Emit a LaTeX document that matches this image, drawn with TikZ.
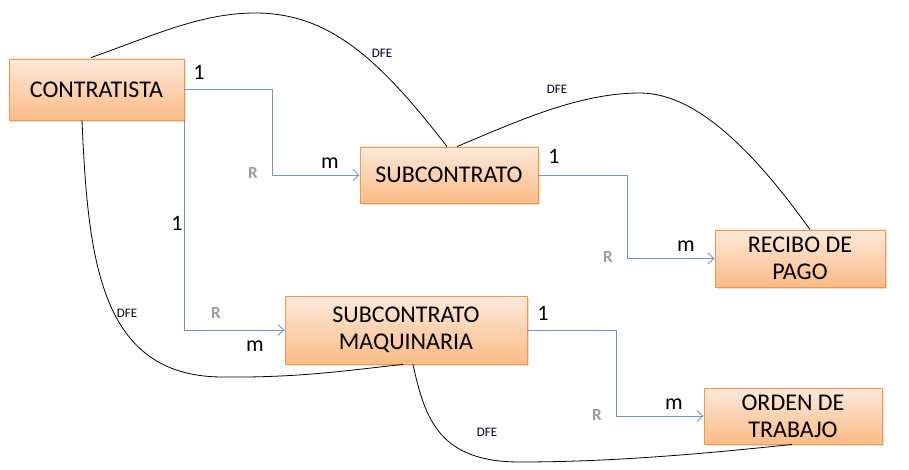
\documentclass[tikz,border=0pt]{standalone}
\usepackage{fontspec}
\setmainfont{Carlito}
\usetikzlibrary{arrows.meta,shadows,calc}
\definecolor{boxline}{HTML}{F79646}
\definecolor{boxtop}{HTML}{FDE9DA}
\definecolor{boxbot}{HTML}{FBBB86}
\definecolor{relblue}{HTML}{6F96CB}
\definecolor{rgray}{HTML}{9C9C9C}
\tikzset{
  entity/.style={draw=boxline, line width=0.9pt, top color=boxtop, bottom color=boxbot,
    inner sep=0pt, align=center, font=\fontsize{24}{27}\selectfont,
    drop shadow={opacity=0.25, shadow xshift=2pt, shadow yshift=-2pt}},
  rel/.style={draw=relblue, line width=0.9pt, -{Straight Barb[length=6pt,width=11pt]}},
  dfe/.style={draw=black, line width=0.8pt},
  card/.style={inner sep=0pt, font=\fontsize{22}{24}\selectfont},
  rlab/.style={inner sep=0pt, text=rgray, font=\fontsize{17}{19}\selectfont\bfseries},
  dfelab/.style={inner sep=0pt, text=black!85!blue, font=\fontsize{13}{15}\selectfont}
}
\begin{document}
\begin{tikzpicture}[x=1pt,y=-1pt]
\useasboundingbox (0,0) rectangle (909,470);
% entities
\node[entity, minimum width=175pt, minimum height=61pt] (contr) at (96.5,89.5) {CONTRATISTA};
\node[entity, minimum width=178pt, minimum height=56pt] (sub) at (449,175) {SUBCONTRATO};
\node[entity, minimum width=170pt, minimum height=57pt] (rec) at (800,258.5) {RECIBO DE\\PAGO};
\node[entity, minimum width=242pt, minimum height=68pt] (smaq) at (406,330) {SUBCONTRATO\\MAQUINARIA};
\node[entity, minimum width=178pt, minimum height=56pt] (orden) at (793,416) {ORDEN DE\\TRABAJO};
% relationships
\draw[rel] (contr.east) -- ++(88,0) |- (sub.west);
\draw[rel] (contr.south east) |- (smaq.west);
\draw[rel] (sub.east) -- ++(89,0) |- (rec.west);
\draw[rel] (smaq.east) -- ++(89,0) |- (orden.west);
% cardinalities
\node[card] (c1) at (199,72) {1};
\node[rlab] (r1) at (253,173) {R};
\node[card] (m1) at (330,163) {m};
\node[card] (c2) at (177,223) {1};
\node[rlab] (r2) at (216,313) {R};
\node[card] (m2) at (255,346) {m};
\node[card] (c3) at (554,156) {1};
\node[rlab] (r3) at (608,257) {R};
\node[card] (m3) at (686,246) {m};
\node[card] (c4) at (543,313) {1};
\node[rlab] (r4) at (597,415) {R};
\node[card] (m4) at (674,404) {m};
% DFE curves
\draw[dfe] ([xshift=-5.5pt,yshift=1pt]contr.north) .. controls (150,37) and (200,13) .. (255,13)
  .. controls (330,13) and (380,60) .. ([xshift=-2pt]sub.north);
\draw[dfe] ([xshift=8pt]sub.north) .. controls (520,120) and (580,93) .. (640,93)
  .. controls (700,93) and (760,160) .. ([xshift=10pt]rec.north);
\draw[dfe] ([xshift=-14.5pt]contr.south) .. controls (88,260) and (100,375) .. (220,377)
  .. controls (300,378) and (350,370) .. ([xshift=-3pt]smaq.south);
\draw[dfe] ([xshift=7pt]smaq.south) .. controls (425,420) and (440,462) .. (520,462)
  .. controls (620,462) and (720,452) .. ([xshift=-1pt]orden.south);
\node[dfelab] (d1) at (382,53) {DFE};
\node[dfelab] (d2) at (557,89) {DFE};
\node[dfelab] (d3) at (127,313) {DFE};
\node[dfelab] (d4) at (487,432) {DFE};
\end{tikzpicture}
\end{document}
